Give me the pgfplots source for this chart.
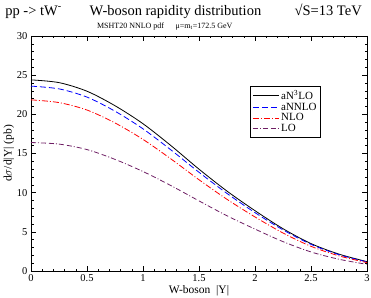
\documentclass[border=0pt]{standalone}
\usepackage{fontspec}
\setmainfont{Liberation Serif}
\usepackage{pgfplots}
\pgfplotsset{compat=1.18}
\definecolor{lopurple}{RGB}{110,30,100}
\begin{document}
\begin{tikzpicture}
\begin{axis}[
  scale only axis, width=336pt, height=235pt,
  xmin=0, xmax=3, ymin=0, ymax=30,
  xtick={0,0.5,1,1.5,2,2.5,3}, xticklabels={0,0.5,1,1.5,2,2.5,3},
  ytick={0,5,10,15,20,25,30},
  minor x tick num=4, minor y tick num=4,
  tick align=inside, major tick length=5pt, minor tick length=2.5pt,
  tick style={black, line width=0.6pt},
  axis line style={line width=0.8pt},
  /pgf/number format/assume math mode=true,
  tick label style={font=\fontsize{10.5}{12}\selectfont},
  xlabel={W-boson\ \ |Y|}, ylabel={d$\sigma$/d|Y| (pb)},
  label style={font=\fontsize{11.5}{13}\selectfont},
  xlabel style={yshift=3pt},
  ylabel style={yshift=-4pt},
  clip=false,
  legend cell align=left,
  legend style={at={(rel axis cs:0.652,0.787)}, anchor=north west, draw=black, line width=0.6pt,
    font=\fontsize{11}{12}\selectfont, inner sep=2pt, row sep=-2pt},
  legend image code/.code={\draw[#1] (0pt,0pt) -- (26pt,0pt);},
]
\addplot[black, line width=0.8pt, smooth] coordinates {
(0,24.4) (0.25,24.05) (0.5,22.95) (0.75,21.1) (1.0,18.8) (1.25,16.0) (1.5,13.0) (1.75,10.2) (2.0,7.7) (2.25,5.4) (2.5,3.5) (2.75,2.15) (3.0,1.2)};
\addlegendentry{aN\textsuperscript{3}LO}
\addplot[blue, line width=0.8pt, dash pattern=on 6pt off 3pt, smooth] coordinates {
(0,23.6) (0.25,23.25) (0.5,22.2) (0.75,20.4) (1.0,18.15) (1.25,15.45) (1.5,12.6) (1.75,9.9) (2.0,7.45) (2.25,5.25) (2.5,3.4) (2.75,2.08) (3.0,1.16)};
\addlegendentry{aNNLO}
\addplot[red, line width=0.8pt, dash pattern=on 6pt off 2pt on 1pt off 2pt, smooth] coordinates {
(0,21.85) (0.25,21.5) (0.5,20.55) (0.75,18.9) (1.0,16.8) (1.25,14.3) (1.5,11.65) (1.75,9.15) (2.0,6.9) (2.25,4.85) (2.5,3.15) (2.75,1.93) (3.0,1.07)};
\addlegendentry{NLO}
\addplot[lopurple, line width=0.8pt, dash pattern=on 5pt off 2pt on 1pt off 2pt on 5pt off 3pt, smooth] coordinates {
(0,16.4) (0.25,16.2) (0.5,15.5) (0.75,14.25) (1.0,12.7) (1.25,10.9) (1.5,8.95) (1.75,7.05) (2.0,5.35) (2.25,3.75) (2.5,2.43) (2.75,1.5) (3.0,0.85)};
\addlegendentry{LO}
\coordinate (ll) at (rel axis cs:0,0);
\coordinate (ur) at (rel axis cs:1,1);
\node[anchor=base west, font=\fontsize{14.5}{16}\selectfont, inner sep=0pt] at (rel axis cs:-0.077,1.089) {pp -> tW\textsuperscript{-}};
\node[anchor=base, font=\fontsize{14.5}{16}\selectfont, inner sep=0pt] at (rel axis cs:0.43,1.089) {W-boson rapidity distribution};
\node[anchor=base east, font=\fontsize{14.5}{16}\selectfont, inner sep=0pt] at (rel axis cs:0.985,1.089) {√S=13 TeV};
\node[anchor=base west, font=\fontsize{8}{9}\selectfont, inner sep=0pt] at (rel axis cs:0.196,1.034) {MSHT20 NNLO pdf};
\node[anchor=base west, font=\fontsize{8}{9}\selectfont, inner sep=0pt] at (rel axis cs:0.43,1.034) {μ=m\textsubscript{t}=172.5 GeV};
\end{axis}
\pgfresetboundingbox
\path ([shift={(-31pt,-26pt)}]ll) rectangle ([shift={(4pt,36pt)}]ur);
\end{tikzpicture}
\end{document}
